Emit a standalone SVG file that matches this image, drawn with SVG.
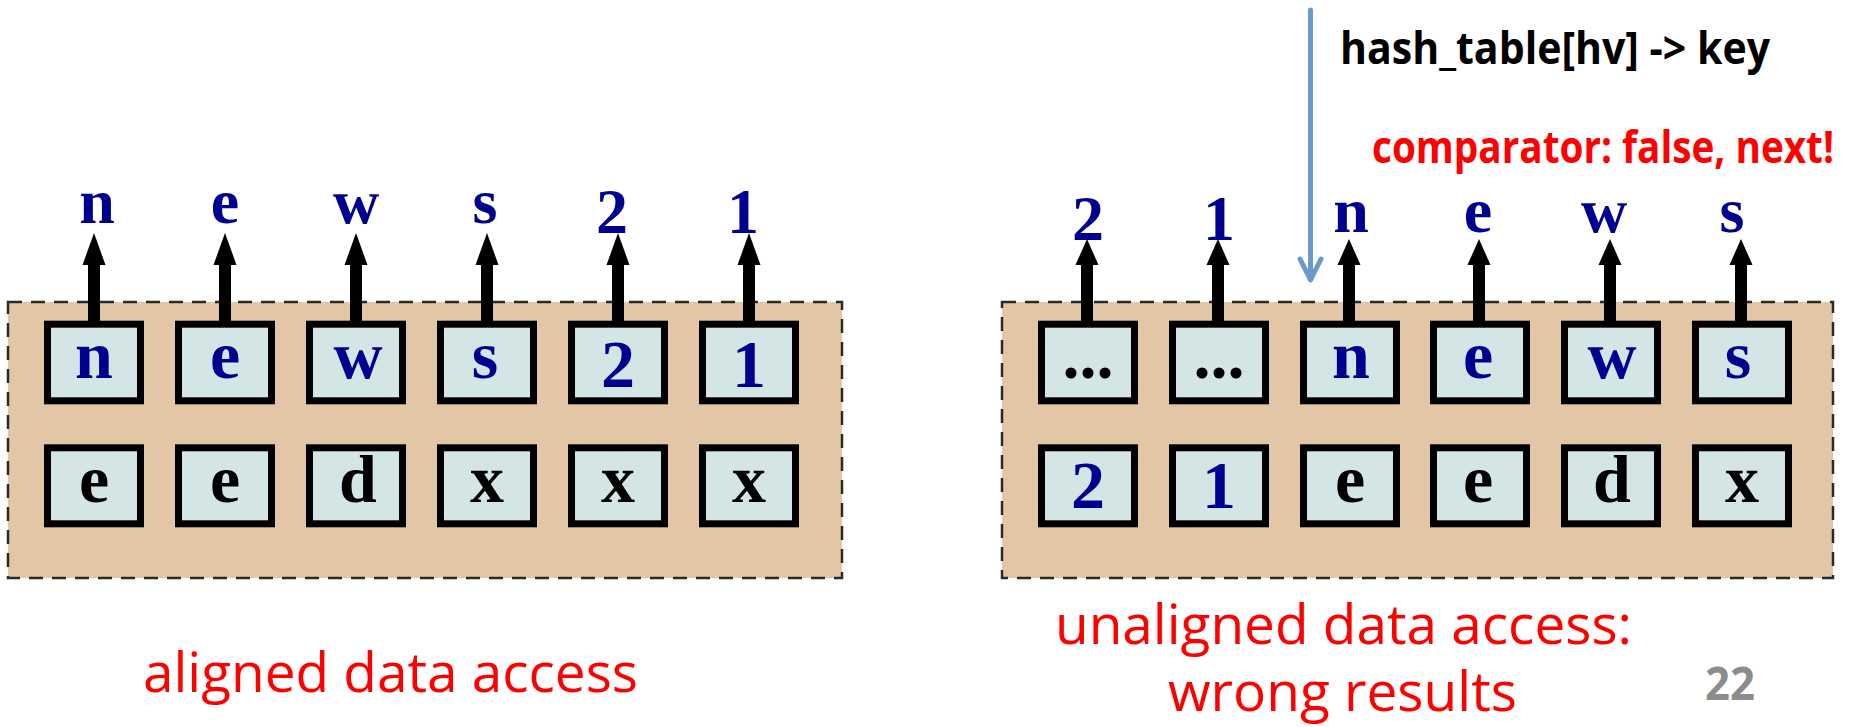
<svg xmlns="http://www.w3.org/2000/svg" width="1860" height="727" viewBox="0 0 1860 727">
  <style>
    .panel { fill: #E2C6A6; stroke: #2a2a2a; stroke-width: 2.5; stroke-dasharray: 14 9; }
    .cell { fill: #D4E5E5; stroke: #000; stroke-width: 7; }
    .glyph { font-family: "Liberation Serif", "Times New Roman", serif; font-weight: bold; text-anchor: middle; }
    .top { font-size: 64px; }
    .in { font-size: 68px; }
    .blue { fill: #000090; }
    .black { fill: #000; }
    .ptr { fill: #000; }
    .probe { fill: none; stroke: #6A9ACD; stroke-width: 5; stroke-linecap: round; stroke-linejoin: round; }
    .note { font-family: "Open Sans", "Liberation Sans", sans-serif; }
    .caption { font-size: 55px; fill: #FF0000; }
    .code { font-size: 44px; font-weight: bold; }
    .page { font-size: 46px; font-weight: bold; fill: #8C8C8C; }
  </style>
  <defs>
    <!-- thick pointer arrow rising from the top edge of a cell (origin = top centre) -->
    <path id="ptrL" d="M -6 3 L -6 -56 L -11.5 -56 L 0 -88 L 11.5 -56 L 6 -56 L 6 3 Z"/>
    <path id="ptrR" d="M -6 3 L -6 -56 L -11.5 -56 L 0 -82 L 11.5 -56 L 6 -56 L 6 3 Z"/>
  </defs>

  <!-- memory blocks -->
  <g id="block-aligned">
    <rect class="panel" x="8" y="302" width="834" height="276"/>
  </g>
  <g id="block-unaligned">
    <rect class="panel" x="1002" y="302" width="831" height="276"/>
  </g>

  <!-- pointer connectors -->
  <g id="connectors">
    <g class="ptr">
      <use href="#ptrL" x="94" y="321"/>
      <use href="#ptrL" x="225" y="321"/>
      <use href="#ptrL" x="356" y="321"/>
      <use href="#ptrL" x="487" y="321"/>
      <use href="#ptrL" x="618" y="321"/>
      <use href="#ptrL" x="749" y="321"/>
      <use href="#ptrR" x="1087" y="321"/>
      <use href="#ptrR" x="1218" y="321"/>
      <use href="#ptrR" x="1349" y="321"/>
      <use href="#ptrR" x="1479" y="321"/>
      <use href="#ptrR" x="1610" y="321"/>
      <use href="#ptrR" x="1741" y="321"/>
    </g>
    <!-- hash table probe -->
    <path class="probe" d="M 1310.5 10 L 1310.5 279"/>
    <path class="probe" d="M 1300 259 L 1310.5 280 L 1321 259"/>
  </g>

  <!-- aligned: top row cells -->
  <g id="a-r1-c1"><rect class="cell" x="47.5" y="324.2" width="93" height="76.6"/><text class="glyph in blue" x="94" y="378">n</text></g>
  <g id="a-r1-c2"><rect class="cell" x="178.5" y="324.2" width="93" height="76.6"/><text class="glyph in blue" x="225" y="378">e</text></g>
  <g id="a-r1-c3"><rect class="cell" x="309.5" y="324.2" width="93" height="76.6"/><text class="glyph in blue" x="358" y="378">w</text></g>
  <g id="a-r1-c4"><rect class="cell" x="440.5" y="324.2" width="93" height="76.6"/><text class="glyph in blue" x="485" y="378">s</text></g>
  <g id="a-r1-c5"><rect class="cell" x="571.5" y="324.2" width="93" height="76.6"/><text class="glyph in blue" x="618" y="387">2</text></g>
  <g id="a-r1-c6"><rect class="cell" x="702.5" y="324.2" width="93" height="76.6"/><text class="glyph in blue" x="749" y="387">1</text></g>
  <!-- aligned: bottom row cells -->
  <g id="a-r2-c1"><rect class="cell" x="47.5" y="447.8" width="93" height="76"/><text class="glyph in black" x="94" y="502">e</text></g>
  <g id="a-r2-c2"><rect class="cell" x="178.5" y="447.8" width="93" height="76"/><text class="glyph in black" x="225" y="502">e</text></g>
  <g id="a-r2-c3"><rect class="cell" x="309.5" y="447.8" width="93" height="76"/><text class="glyph in black" x="358" y="502">d</text></g>
  <g id="a-r2-c4"><rect class="cell" x="440.5" y="447.8" width="93" height="76"/><text class="glyph in black" x="487" y="502">x</text></g>
  <g id="a-r2-c5"><rect class="cell" x="571.5" y="447.8" width="93" height="76"/><text class="glyph in black" x="618" y="502">x</text></g>
  <g id="a-r2-c6"><rect class="cell" x="702.5" y="447.8" width="93" height="76"/><text class="glyph in black" x="749" y="502">x</text></g>
  <!-- aligned: values read through the pointers -->
  <g id="a-out">
    <text class="glyph top blue" x="97" y="223">n</text>
    <text class="glyph top blue" x="225" y="223">e</text>
    <text class="glyph top blue" x="356" y="223">w</text>
    <text class="glyph top blue" x="485" y="223">s</text>
    <text class="glyph top blue" x="612" y="233">2</text>
    <text class="glyph top blue" x="743" y="233">1</text>
  </g>

  <!-- unaligned: top row cells -->
  <g id="u-r1-c1"><rect class="cell" x="1041.5" y="324.2" width="93" height="76.6"/><text class="glyph in black" x="1088" y="378">...</text></g>
  <g id="u-r1-c2"><rect class="cell" x="1172.5" y="324.2" width="93" height="76.6"/><text class="glyph in black" x="1219" y="378">...</text></g>
  <g id="u-r1-c3"><rect class="cell" x="1303.5" y="324.2" width="93" height="76.6"/><text class="glyph in blue" x="1351" y="378">n</text></g>
  <g id="u-r1-c4"><rect class="cell" x="1433.5" y="324.2" width="93" height="76.6"/><text class="glyph in blue" x="1478" y="378">e</text></g>
  <g id="u-r1-c5"><rect class="cell" x="1564.5" y="324.2" width="93" height="76.6"/><text class="glyph in blue" x="1612" y="378">w</text></g>
  <g id="u-r1-c6"><rect class="cell" x="1695.5" y="324.2" width="93" height="76.6"/><text class="glyph in blue" x="1738" y="378">s</text></g>
  <!-- unaligned: bottom row cells -->
  <g id="u-r2-c1"><rect class="cell" x="1041.5" y="447.8" width="93" height="76"/><text class="glyph in blue" x="1088" y="508">2</text></g>
  <g id="u-r2-c2"><rect class="cell" x="1172.5" y="447.8" width="93" height="76"/><text class="glyph in blue" x="1219" y="508">1</text></g>
  <g id="u-r2-c3"><rect class="cell" x="1303.5" y="447.8" width="93" height="76"/><text class="glyph in black" x="1350" y="502">e</text></g>
  <g id="u-r2-c4"><rect class="cell" x="1433.5" y="447.8" width="93" height="76"/><text class="glyph in black" x="1478" y="502">e</text></g>
  <g id="u-r2-c5"><rect class="cell" x="1564.5" y="447.8" width="93" height="76"/><text class="glyph in black" x="1612" y="502">d</text></g>
  <g id="u-r2-c6"><rect class="cell" x="1695.5" y="447.8" width="93" height="76"/><text class="glyph in black" x="1742" y="502">x</text></g>
  <!-- unaligned: values read through the pointers -->
  <g id="u-out">
    <text class="glyph top blue" x="1088" y="240">2</text>
    <text class="glyph top blue" x="1219" y="240">1</text>
    <text class="glyph top blue" x="1351" y="232">n</text>
    <text class="glyph top blue" x="1478" y="232">e</text>
    <text class="glyph top blue" x="1604" y="232">w</text>
    <text class="glyph top blue" x="1732" y="232">s</text>
  </g>

  <!-- annotations -->
  <g id="probe-label">
    <text class="note code" x="1340" y="64" textLength="430" lengthAdjust="spacingAndGlyphs" fill="#000">hash_table[hv] -&gt; key</text>
  </g>
  <g id="comparator-label">
    <text class="note code" x="1372" y="163" textLength="462" lengthAdjust="spacingAndGlyphs" fill="#FF0000">comparator: false, next!</text>
  </g>
  <g id="caption-aligned">
    <text class="note caption" x="143" y="692" textLength="495" lengthAdjust="spacingAndGlyphs">aligned data access</text>
  </g>
  <g id="caption-unaligned">
    <text class="note caption" x="1055" y="644" textLength="577" lengthAdjust="spacingAndGlyphs">unaligned data access:</text>
    <text class="note caption" x="1168" y="711" textLength="349" lengthAdjust="spacingAndGlyphs">wrong results</text>
  </g>
  <g id="page-number">
    <text class="note page" x="1705" y="700" textLength="50" lengthAdjust="spacingAndGlyphs">22</text>
  </g>
</svg>
